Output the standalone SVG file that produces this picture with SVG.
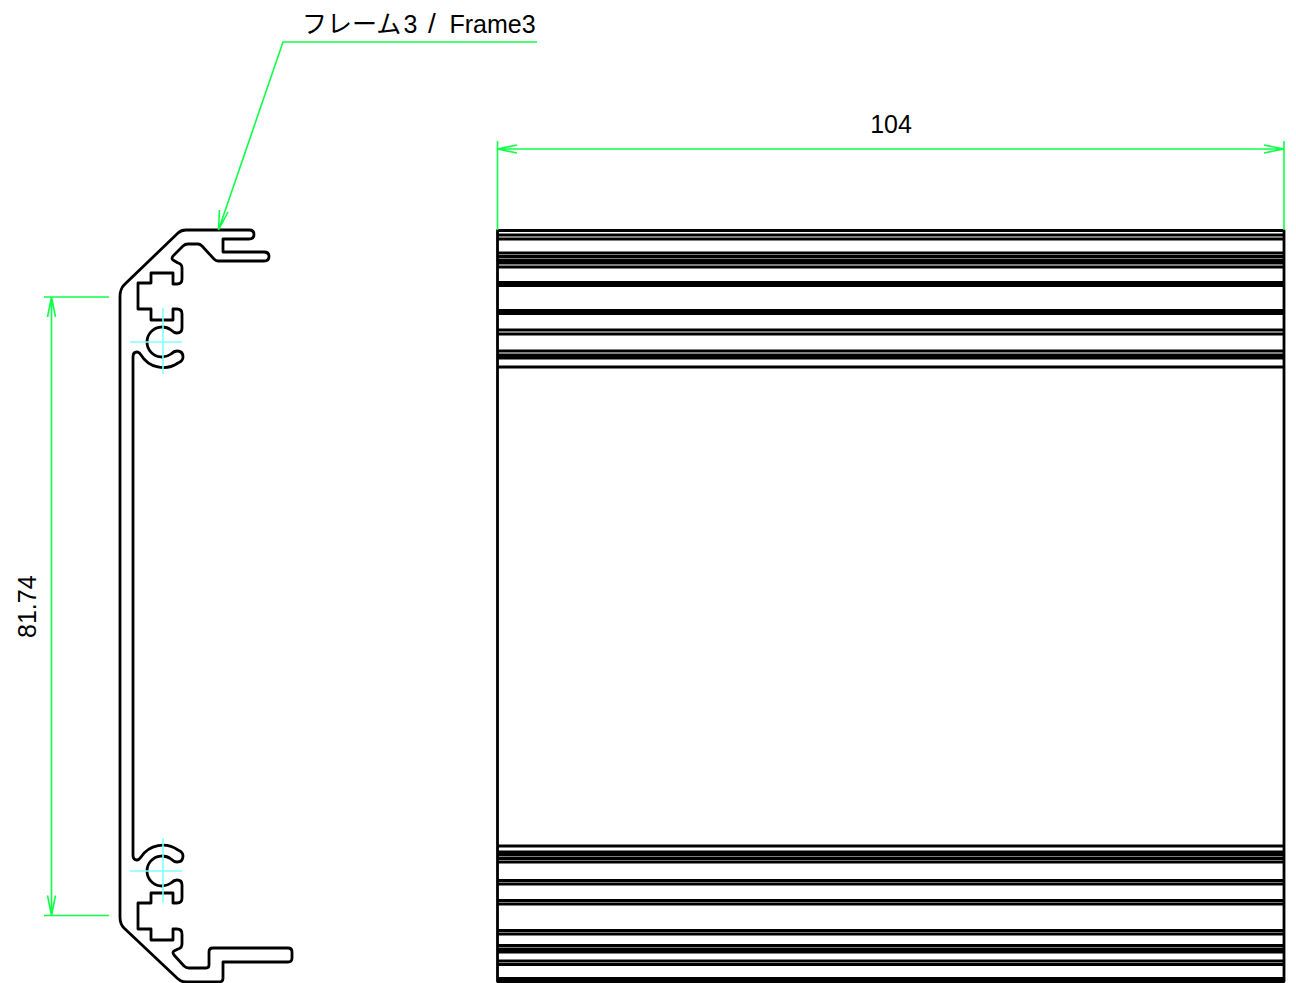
<svg xmlns="http://www.w3.org/2000/svg" width="1296" height="983" viewBox="0 0 1296 983">
<style>
.o{fill:none;stroke:#000;stroke-width:2.8;stroke-linejoin:round}
.c{fill:none;stroke:#80ffff;stroke-width:1.6}
.d{fill:none;stroke:#10ff48;stroke-width:1.6}
text{font-family:"Liberation Sans","Noto Sans CJK JP",sans-serif;font-size:25px;fill:#000}
</style>
<rect width="1296" height="983" fill="#fff"/>
<g id="section">
<path class="o" d="M120 297Q120 289 124 285L178 233Q181 230 186 230H249Q254 230 254 234.500Q254 239 249 239H223V252H264Q269 252 269 256.500Q269 261 264 261H218Q216 261 214 259L202 246Q200 244 198 244H188Q185 244 183 246L173 256Q171 259 173 260L178 263Q182 264 182 268V279Q182 284 177 284H173V273H151V283H138V309H151V320H173V309H177Q182 309 182 314V328Q182 333 177 333Q174 333 171 330A15 15 0 1 0 171 354Q174 351 177 351Q183 351 183 357Q183 361 178 363A26 26 0 0 1 141 355Q139 352 137 352Q133 352 133 357V855Q133 860 137 860Q139 860 141 857A26 26 0 0 1 178 850Q183 852 183 856Q183 862 177 862Q174 862 171 859A15 15 0 1 0 171 883Q174 880 177 880Q182 880 182 885V898Q182 903 177 903H173V893H151V903H138V929H151V940H173V929H177Q182 929 182 934V944Q182 948 178 949L174 951Q172 952 174 955L184 966Q186 968 189 968H206Q209 968 209 965V952Q209 948 213 948H288Q292 948 292 952V958Q292 962 288 962H223V978Q223 982 219 982H186Q181 982 177 978L124 928Q120 924 120 917Z"/>
</g>
<g id="side-view">
<rect class="o" x="497.500" y="230.500" width="786.500" height="751"/>
<path class="o" d="M497 235H1284M497 239H1284M497 253H1284M497 256.500H1284M497 260H1284M497 263H1284M497 267H1284M497 282.500H1284M497 285.500H1284M497 310.500H1284M497 313.500H1284M497 330H1284M497 334H1284M497 351H1284M497 355H1284M497 358H1284M497 367H1284"/>
<path class="o" d="M497 846H1284M497 852H1284M497 855H1284M497 858.500H1284M497 862H1284M497 880.500H1284M497 884H1284M497 900.500H1284M497 904H1284M497 930.500H1284M497 934H1284M497 945.500H1284M497 949H1284M497 952H1284M497 961H1284M497 964.500H1284M497 978.500H1284"/>
</g>
<g id="centerlines">
<path class="c" d="M130 342H182M163 308V374M130 871H182M163 838V903"/>
</g>
<g id="connectors">
<path class="d" d="M497.500 141V230M1284 141V230M497.500 149H1284M497.500 149L517 145M497.500 149L517 153M1284 149L1264 145M1284 149L1264 153"/>
<path class="d" d="M44 297H109M44 915.500H109M51.500 297V915.500M51.500 297L47.500 317M51.500 297L55.500 317M51.500 915.500L47.500 895.500M51.500 915.500L55.500 895.500"/>
<path class="d" d="M537 42H283L218.500 230M218.500 230L219.500 210M218.500 230L228 212"/>
</g>
<g id="labels">
<text x="891" y="133" text-anchor="middle">104</text>
<text transform="translate(36 638) rotate(-90)">81.74</text>
<text x="302" y="33">フレーム<tspan x="403.500">3</tspan> <tspan x="428" font-size="28">/</tspan> <tspan x="449.500">Frame3</tspan></text>
</g>
</svg>
